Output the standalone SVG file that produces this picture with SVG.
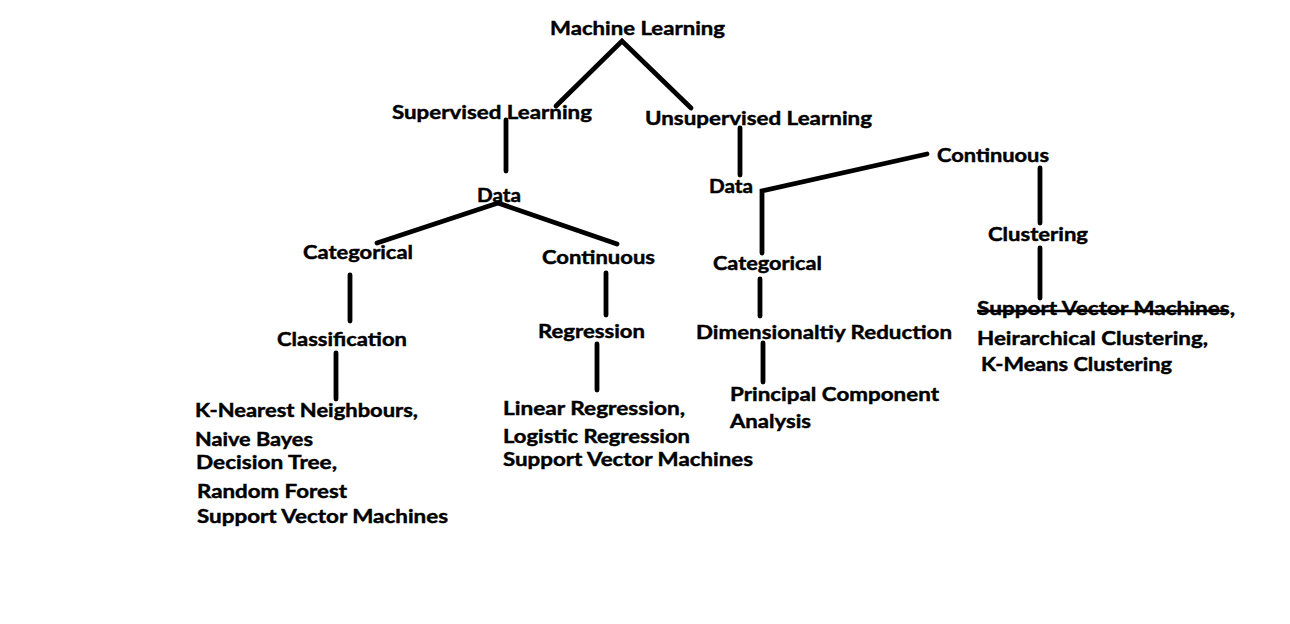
<svg xmlns="http://www.w3.org/2000/svg" width="1290" height="624" viewBox="0 0 1290 624">
<style>
text{font-family:Lato,"Open Sans","Liberation Sans",sans-serif;font-weight:bold;font-size:19.5px;fill:#000;stroke:#000;stroke-width:0.45px}
.c{stroke:#000;stroke-width:4.8;fill:none;stroke-linecap:round;stroke-linejoin:miter}
.s{stroke:#000;stroke-width:2.5}
</style>
<rect width="1290" height="624" fill="#fff"/>
<g id="connectors">
<polyline class="c" points="556,106 622,41 691,108"/>
<line class="c" x1="506" y1="120" x2="506" y2="171"/>
<line class="c" x1="740" y1="128" x2="740" y2="175"/>
<polyline class="c" points="377,243 498,203 617,244"/>
<line class="c" x1="350" y1="275" x2="350" y2="321"/>
<line class="c" x1="336" y1="353" x2="336" y2="399"/>
<line class="c" x1="606" y1="273" x2="606" y2="315"/>
<line class="c" x1="597" y1="344" x2="597" y2="390"/>
<polyline class="c" points="927,154 762,191 762,253"/>
<line class="c" x1="760" y1="279" x2="760" y2="316"/>
<line class="c" x1="763" y1="343" x2="763" y2="382"/>
<line class="c" x1="1040" y1="168" x2="1040" y2="223"/>
<line class="c" x1="1040" y1="248" x2="1040" y2="298"/>
</g>
<g id="machine-learning"><text x="550" y="35" textLength="175" lengthAdjust="spacingAndGlyphs">Machine Learning</text></g>
<g id="supervised"><text x="392" y="119" textLength="200" lengthAdjust="spacingAndGlyphs">Supervised Learning</text></g>
<g id="unsupervised"><text x="645" y="125" textLength="227" lengthAdjust="spacingAndGlyphs">Unsupervised Learning</text></g>
<g id="data-left"><text x="477" y="202" textLength="44" lengthAdjust="spacingAndGlyphs">Data</text></g>
<g id="categorical-left"><text x="303" y="259" textLength="110" lengthAdjust="spacingAndGlyphs">Categorical</text></g>
<g id="continuous-left"><text x="542" y="264" textLength="113" lengthAdjust="spacingAndGlyphs">Continuous</text></g>
<g id="classification"><text x="277" y="346" textLength="130" lengthAdjust="spacingAndGlyphs">Classification</text></g>
<g id="regression"><text x="538" y="338" textLength="107" lengthAdjust="spacingAndGlyphs">Regression</text></g>
<g id="classification-algos">
<text x="195" y="417" textLength="223" lengthAdjust="spacingAndGlyphs">K-Nearest Neighbours,</text>
<text x="195" y="446" textLength="118" lengthAdjust="spacingAndGlyphs">Naive Bayes</text>
<text x="196" y="469" textLength="141" lengthAdjust="spacingAndGlyphs">Decision Tree,</text>
<text x="197" y="498" textLength="150" lengthAdjust="spacingAndGlyphs">Random Forest</text>
<text x="197" y="523" textLength="251" lengthAdjust="spacingAndGlyphs">Support Vector Machines</text>
</g>
<g id="regression-algos">
<text x="503" y="415" textLength="182" lengthAdjust="spacingAndGlyphs">Linear Regression,</text>
<text x="503" y="443" textLength="187" lengthAdjust="spacingAndGlyphs">Logistic Regression</text>
<text x="503" y="466" textLength="250" lengthAdjust="spacingAndGlyphs">Support Vector Machines</text>
</g>
<g id="data-right"><text x="709" y="193" textLength="44" lengthAdjust="spacingAndGlyphs">Data</text></g>
<g id="continuous-right"><text x="937" y="162" textLength="112" lengthAdjust="spacingAndGlyphs">Continuous</text></g>
<g id="clustering"><text x="988" y="241" textLength="100" lengthAdjust="spacingAndGlyphs">Clustering</text></g>
<g id="categorical-right"><text x="713" y="270" textLength="109" lengthAdjust="spacingAndGlyphs">Categorical</text></g>
<g id="dimensionality"><text x="696" y="339" textLength="256" lengthAdjust="spacingAndGlyphs">Dimensionaltiy Reduction</text></g>
<g id="pca">
<text x="730" y="401" textLength="209" lengthAdjust="spacingAndGlyphs">Principal Component</text>
<text x="730" y="428" textLength="81" lengthAdjust="spacingAndGlyphs">Analysis</text>
</g>
<g id="clustering-algos">
<text x="977" y="315" textLength="258" lengthAdjust="spacingAndGlyphs">Support Vector Machines,</text>
<line class="s" x1="977" y1="311" x2="1228" y2="311"/>
<text x="977" y="345" textLength="231" lengthAdjust="spacingAndGlyphs">Heirarchical Clustering,</text>
<text x="981" y="371" textLength="191" lengthAdjust="spacingAndGlyphs">K-Means Clustering</text>
</g>
</svg>
